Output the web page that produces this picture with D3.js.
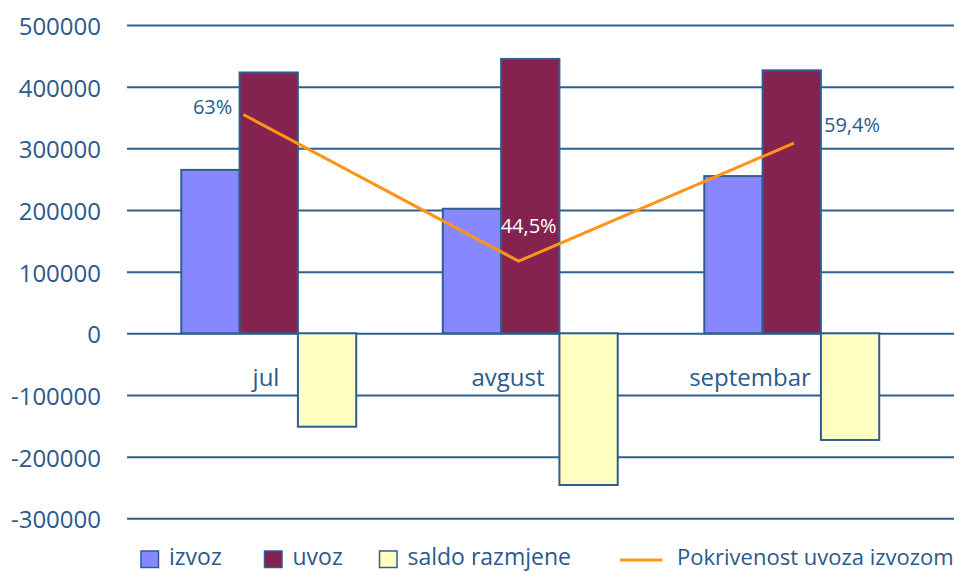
<!DOCTYPE html>
<html><head><meta charset="utf-8">
<script src="https://cdn.jsdelivr.net/npm/d3@7"></script>
<style>
html,body{margin:0;padding:0;background:#fff;}
text{font-family:"Open Sans",sans-serif;fill:#2B5A8C;}
</style></head>
<body>
<svg id="chart" width="954" height="571"></svg>
<script>
// ---- data ----
const categories = ["jul", "avgust", "septembar"];
const seriesNames = ["izvoz", "uvoz", "saldo razmjene"];
const izvoz = [265000, 202000, 255000];
const uvoz = [423000, 445000, 426500];
const saldo = [-151500, -246000, -173000];
const pokrivenost = [63, 44.5, 59.4];
const pokrivenostLabels = ["63%", "44,5%", "59,4%"];
const lineName = "Pokrivenost uvoza izvozom";
const yTicks = [-300000, -200000, -100000, 0, 100000, 200000, 300000, 400000, 500000];

// ---- style ----
const colors = {"izvoz": "#8787FF", "uvoz": "#842350", "saldo razmjene": "#FFFFC2"};
const edge = "#2F5F90";
const textCol = "#2B5A8C";
const lineCol = "#FF9416";
// label placement relative to line points: [dx, dy, anchor, fill]
const labelPlacement = [[-11, -1, "end", textCol], [10, -28, "middle", "#FFFFFF"], [30, -11, "start", textCol]];

const svg = d3.select("#chart");
const plotLeft = 127, plotRight = 954, plotTop = 25, plotBottom = 518.3;

const y = d3.scaleLinear().domain([-300000, 500000]).range([plotBottom, plotTop]);
const x0 = d3.scaleBand().domain(categories).range([138, 922.5]).paddingInner(0.331).paddingOuter(0.1655);
const x1 = d3.scaleBand().domain(seriesNames).range([0, x0.bandwidth()]);
const xLine = d3.scalePoint().domain(categories).range([243.3, 794]);
const yPct = d3.scaleLinear().domain([0, 70]).range([614, 59]);
const xLabel = d3.scalePoint().domain(categories).range([266, 750]);

// gridlines
const yAxis = d3.axisLeft(y).tickValues(yTicks).tickSize(-(plotRight - plotLeft))
  .tickFormat(d => String(d)).tickPadding(26);
const gAxis = svg.append("g").attr("transform", `translate(${plotLeft},0)`).call(yAxis);
gAxis.select(".domain").remove();
gAxis.selectAll(".tick line").attr("stroke", edge).attr("stroke-width", 2);
gAxis.selectAll(".tick text").attr("font-size", 24).attr("fill", textCol)
  .attr("dy", null).attr("y", 9.5).style("font-family", '"Open Sans",sans-serif');

// bars
const seriesData = {"izvoz": izvoz, "uvoz": uvoz, "saldo razmjene": saldo};
const barData = [];
categories.forEach((c, i) => seriesNames.forEach(s => barData.push({c, s, v: seriesData[s][i]})));
svg.append("g").selectAll("rect").data(barData).join("rect")
  .attr("x", d => x0(d.c) + x1(d.s))
  .attr("width", x1.bandwidth())
  .attr("y", d => y(Math.max(0, d.v)))
  .attr("height", d => Math.abs(y(d.v) - y(0)))
  .attr("fill", d => colors[d.s])
  .attr("stroke", edge).attr("stroke-width", 2);

// category labels
svg.append("g").selectAll("text").data(categories).join("text")
  .attr("x", d => xLabel(d)).attr("y", 385.5)
  .attr("text-anchor", "middle").attr("font-size", 24).text(d => d);

// line
const line = d3.line().x((d, i) => xLine(categories[i])).y(d => yPct(d));
svg.append("path").datum(pokrivenost).attr("d", line)
  .attr("fill", "none").attr("stroke", lineCol).attr("stroke-width", 3);

// data labels
svg.append("g").selectAll("text").data(pokrivenost).join("text")
  .attr("x", (d, i) => xLine(categories[i]) + labelPlacement[i][0])
  .attr("y", (d, i) => yPct(d) + labelPlacement[i][1])
  .attr("text-anchor", (d, i) => labelPlacement[i][2])
  .style("fill", (d, i) => labelPlacement[i][3])
  .attr("font-size", 20).text((d, i) => pokrivenostLabels[i]);

// legend
const legendX = [141, 264.5, 379.5];
const lg = svg.append("g");
seriesNames.forEach((s, i) => {
  lg.append("rect").attr("x", legendX[i]).attr("y", 551).attr("width", 17.5).attr("height", 16.5)
    .attr("fill", colors[s]).attr("stroke", edge).attr("stroke-width", 1.5);
  lg.append("text").attr("x", legendX[i] + 28).attr("y", 564.5).attr("font-size", 23).text(s);
});
lg.append("line").attr("x1", 620).attr("x2", 662.5).attr("y1", 560).attr("y2", 560)
  .attr("stroke", lineCol).attr("stroke-width", 3);
lg.append("text").attr("x", 677).attr("y", 564.5).attr("font-size", 22).text(lineName);
</script>
</body></html>
